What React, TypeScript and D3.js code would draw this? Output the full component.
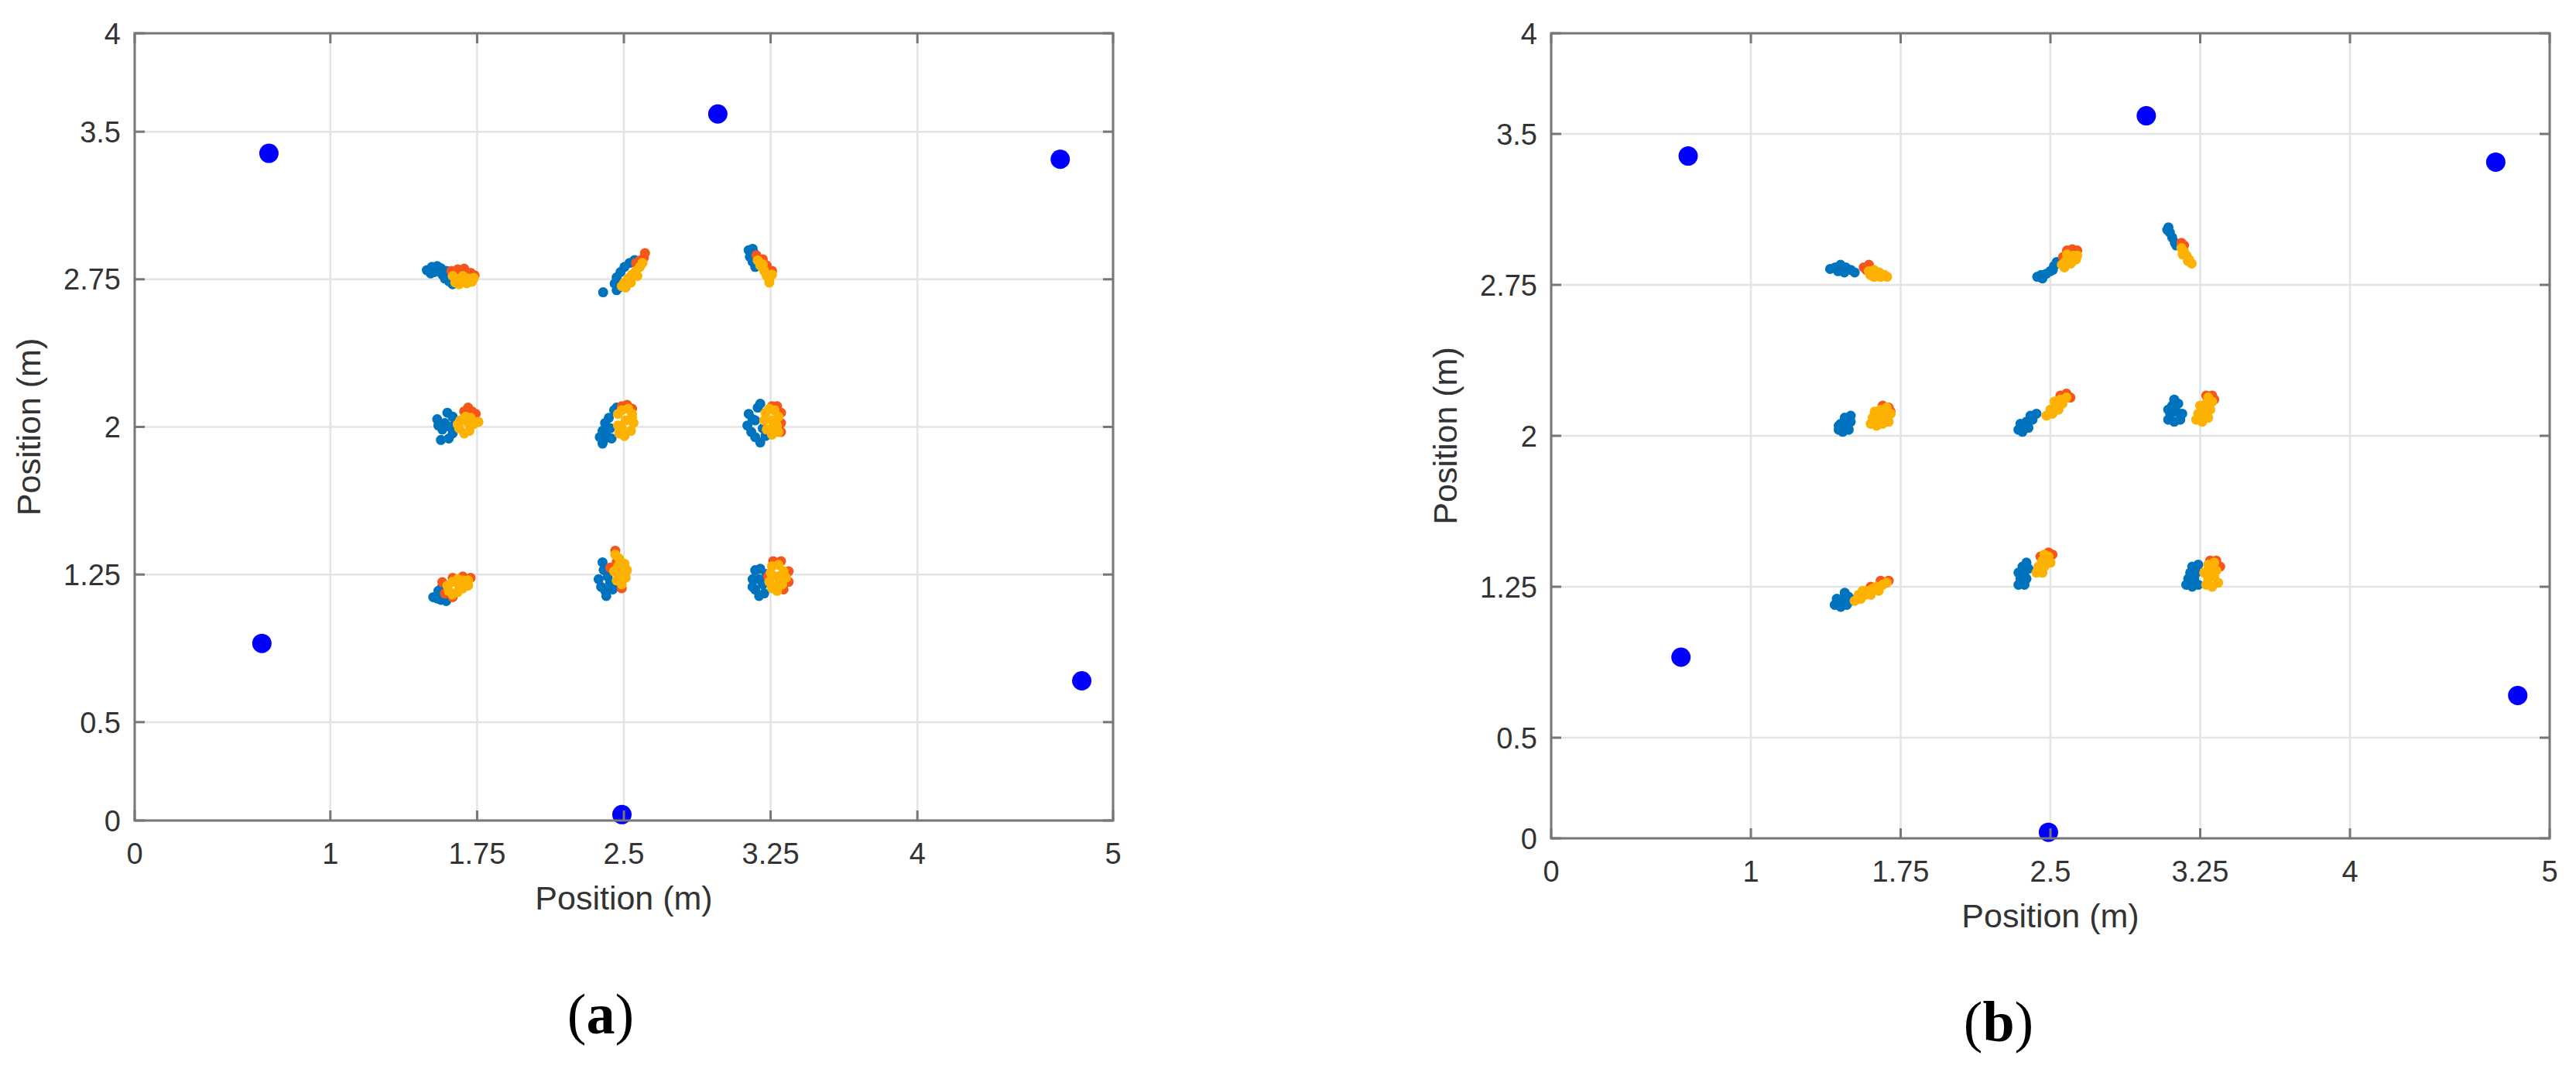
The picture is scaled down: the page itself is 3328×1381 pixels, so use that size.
import React from 'react';
import * as d3 from 'd3';

// tick values shared by both panels
const xTicks = [0, 1, 1.75, 2.5, 3.25, 4, 5];
const yTicks = [0, 0.5, 1.25, 2, 2.75, 3.5, 4];

// anchor positions (big blue dots)
const anchors = [[0.686, 3.39], [2.98, 3.59], [4.73, 3.36], [0.65, 0.9], [4.84, 0.71], [2.49, 0.03]];

// panel (a) estimates
const aBlue = [
  [1.493, 2.796], [1.519, 2.813], [1.546, 2.817], [1.565, 2.806], [1.532, 2.787], [1.572, 2.774], [1.585, 2.754], [1.605, 2.741], [1.625, 2.725], [1.513, 2.78], [1.592, 2.793],
  [2.394, 2.684], [2.463, 2.695], [2.453, 2.728], [2.463, 2.76], [2.483, 2.787], [2.503, 2.813], [2.529, 2.833], [2.555, 2.848], [2.476, 2.708],
  [3.138, 2.898], [3.158, 2.905], [3.144, 2.865], [3.158, 2.839], [3.171, 2.813], [3.164, 2.885],
  [1.546, 2.039], [1.572, 1.987], [1.598, 2.072], [1.625, 2.052], [1.585, 2.02], [1.565, 1.934], [1.605, 1.941], [1.625, 1.967], [1.638, 2.02], [1.611, 2.0], [1.552, 2.007],
  [2.391, 1.915], [2.377, 1.948], [2.391, 1.98], [2.404, 2.02], [2.423, 2.046], [2.45, 2.085], [2.463, 2.098], [2.41, 1.954], [2.43, 1.993], [2.437, 1.941], [2.397, 1.934],
  [3.138, 2.066], [3.131, 2.007], [3.151, 1.974], [3.171, 1.948], [3.197, 1.921], [3.184, 2.098], [3.197, 2.118], [3.171, 2.033], [3.21, 1.993], [3.224, 1.954], [3.158, 2.039],
  [1.526, 1.135], [1.552, 1.167], [1.572, 1.187], [1.565, 1.121], [1.592, 1.115], [1.605, 1.141], [1.578, 1.148], [1.546, 1.128],
  [2.391, 1.312], [2.397, 1.273], [2.371, 1.226], [2.384, 1.187], [2.404, 1.168], [2.41, 1.141], [2.443, 1.174], [2.43, 1.207], [2.417, 1.24], [2.45, 1.194],
  [3.171, 1.272], [3.158, 1.226], [3.171, 1.173], [3.191, 1.141], [3.217, 1.154], [3.21, 1.2], [3.23, 1.253], [3.197, 1.279], [3.191, 1.226], [3.158, 1.187],
];
const aOrange = [
  [1.618, 2.793], [1.651, 2.8], [1.684, 2.804], [1.717, 2.783], [1.737, 2.77],
  [2.608, 2.883], [2.602, 2.859], [2.582, 2.846], [2.562, 2.833],
  [3.21, 2.852], [3.23, 2.82], [3.257, 2.793], [3.177, 2.872],
  [1.704, 2.098], [1.724, 2.079], [1.684, 2.079], [1.743, 2.066],
  [2.489, 2.105], [2.516, 2.112], [2.542, 2.092],
  [3.257, 2.105], [3.283, 2.105], [3.303, 2.072], [3.303, 2.02], [3.303, 1.974],
  [1.572, 1.211], [1.625, 1.233], [1.677, 1.24], [1.717, 1.233], [1.585, 1.154], [1.625, 1.135],
  [2.456, 1.371], [2.463, 1.312], [2.489, 1.18], [2.43, 1.285],
  [3.263, 1.318], [3.303, 1.318], [3.342, 1.266], [3.342, 1.213], [3.316, 1.174], [3.237, 1.24],
];
const aYellow = [
  [1.625, 2.767], [1.651, 2.747], [1.677, 2.767], [1.704, 2.754], [1.724, 2.738], [1.658, 2.725], [1.697, 2.73], [1.638, 2.734], [1.733, 2.757],
  [2.489, 2.715], [2.503, 2.734], [2.522, 2.754], [2.542, 2.774], [2.562, 2.793], [2.582, 2.813], [2.595, 2.833], [2.509, 2.708], [2.536, 2.734], [2.569, 2.767],
  [3.184, 2.846], [3.197, 2.82], [3.217, 2.793], [3.23, 2.767], [3.243, 2.747], [3.243, 2.734], [3.21, 2.826], [3.257, 2.774],
  [1.664, 2.033], [1.691, 2.052], [1.717, 2.046], [1.757, 2.026], [1.658, 1.993], [1.684, 1.967], [1.71, 1.98], [1.73, 2.013], [1.651, 2.013], [1.704, 2.02],
  [2.47, 2.066], [2.489, 2.085], [2.522, 2.092], [2.542, 2.066], [2.549, 2.02], [2.536, 1.98], [2.503, 1.954], [2.476, 1.967], [2.47, 2.007], [2.509, 2.033], [2.542, 2.046], [2.489, 1.993],
  [3.224, 2.072], [3.243, 2.092], [3.27, 2.085], [3.29, 2.052], [3.283, 2.007], [3.29, 1.974], [3.257, 1.961], [3.23, 1.987], [3.217, 2.033], [3.257, 2.033], [3.263, 2.0],
  [1.598, 1.194], [1.625, 1.213], [1.651, 1.226], [1.677, 1.22], [1.704, 1.22], [1.704, 1.194], [1.677, 1.18], [1.651, 1.161], [1.625, 1.148], [1.605, 1.167], [1.658, 1.194],
  [2.456, 1.351], [2.476, 1.331], [2.503, 1.305], [2.516, 1.272], [2.509, 1.233], [2.489, 1.2], [2.463, 1.22], [2.45, 1.266], [2.483, 1.253], [2.47, 1.292],
  [3.257, 1.292], [3.29, 1.299], [3.316, 1.266], [3.329, 1.233], [3.309, 1.2], [3.283, 1.167], [3.257, 1.18], [3.243, 1.213], [3.25, 1.259], [3.283, 1.24], [3.29, 1.2],
];

// panel (b) estimates
const bBlue = [
  [1.397, 2.829], [1.423, 2.837], [1.449, 2.85], [1.475, 2.837], [1.501, 2.824], [1.52, 2.812], [1.436, 2.818], [1.468, 2.812],
  [2.434, 2.79], [2.46, 2.782], [2.479, 2.805], [2.499, 2.818], [2.518, 2.844], [2.531, 2.863], [2.512, 2.824], [2.453, 2.799],
  [3.091, 3.036], [3.098, 3.01], [3.11, 2.985], [3.123, 2.959], [3.13, 2.946], [3.085, 3.023],
  [1.44, 2.03], [1.46, 2.02], [1.49, 2.03], [1.45, 2.06], [1.48, 2.06], [1.5, 2.07], [1.47, 2.09], [1.5, 2.1], [1.44, 2.05],
  [2.34, 2.03], [2.36, 2.02], [2.39, 2.04], [2.35, 2.06], [2.38, 2.07], [2.41, 2.08], [2.4, 2.1], [2.43, 2.11], [2.37, 2.05],
  [3.09, 2.08], [3.12, 2.07], [3.15, 2.08], [3.1, 2.11], [3.13, 2.12], [3.16, 2.11], [3.11, 2.15], [3.14, 2.16], [3.12, 2.18], [3.09, 2.13],
  [1.42, 1.16], [1.45, 1.15], [1.48, 1.16], [1.43, 1.19], [1.46, 1.19], [1.49, 1.2], [1.5, 1.18], [1.47, 1.22],
  [2.34, 1.26], [2.37, 1.26], [2.35, 1.29], [2.38, 1.29], [2.34, 1.32], [2.37, 1.32], [2.36, 1.35], [2.39, 1.34], [2.38, 1.37],
  [3.18, 1.26], [3.21, 1.25], [3.24, 1.26], [3.19, 1.29], [3.22, 1.29], [3.2, 1.32], [3.23, 1.32], [3.21, 1.35], [3.24, 1.36],
];
const bOrange = [
  [1.565, 2.837], [1.591, 2.85], [1.578, 2.824],
  [2.583, 2.921], [2.609, 2.927], [2.634, 2.921], [2.563, 2.888],
  [3.156, 2.959], [3.169, 2.946],
  [1.66, 2.15], [1.69, 2.14], [1.7, 2.12],
  [2.55, 2.2], [2.58, 2.21], [2.6, 2.19],
  [3.28, 2.2], [3.31, 2.2], [3.32, 2.18],
  [1.6, 1.25], [1.65, 1.28], [1.69, 1.28],
  [2.49, 1.42], [2.51, 1.41], [2.45, 1.4],
  [3.3, 1.38], [3.33, 1.38], [3.35, 1.35],
];
const bYellow = [
  [1.591, 2.818], [1.617, 2.824], [1.643, 2.812], [1.669, 2.799], [1.682, 2.79], [1.617, 2.79], [1.649, 2.79], [1.598, 2.799],
  [2.557, 2.85], [2.576, 2.869], [2.596, 2.882], [2.615, 2.895], [2.634, 2.895], [2.628, 2.876], [2.602, 2.856], [2.57, 2.837], [2.583, 2.901],
  [3.156, 2.933], [3.169, 2.914], [3.182, 2.895], [3.194, 2.876], [3.207, 2.856], [3.162, 2.901], [3.188, 2.869],
  [1.6, 2.06], [1.63, 2.05], [1.66, 2.06], [1.69, 2.07], [1.61, 2.09], [1.64, 2.09], [1.67, 2.1], [1.7, 2.11], [1.62, 2.12], [1.65, 2.13], [1.68, 2.14],
  [2.48, 2.1], [2.51, 2.11], [2.54, 2.13], [2.5, 2.13], [2.53, 2.15], [2.56, 2.16], [2.55, 2.18], [2.58, 2.19], [2.52, 2.17],
  [3.23, 2.08], [3.26, 2.07], [3.29, 2.09], [3.24, 2.11], [3.27, 2.12], [3.3, 2.13], [3.25, 2.15], [3.28, 2.16], [3.31, 2.17], [3.29, 2.19],
  [1.52, 1.18], [1.55, 1.19], [1.54, 1.21], [1.57, 1.21], [1.59, 1.23], [1.61, 1.24], [1.63, 1.25], [1.66, 1.26], [1.6, 1.21], [1.56, 1.23], [1.64, 1.23], [1.68, 1.27],
  [2.43, 1.32], [2.46, 1.32], [2.44, 1.35], [2.47, 1.35], [2.5, 1.37], [2.46, 1.38], [2.49, 1.4], [2.47, 1.41],
  [3.28, 1.26], [3.31, 1.25], [3.34, 1.27], [3.29, 1.29], [3.32, 1.3], [3.27, 1.32], [3.3, 1.33], [3.33, 1.33], [3.29, 1.36], [3.32, 1.37],
];

const FONT = '"Liberation Sans", Arial, Helvetica, sans-serif';
const AXIS = '#777';
const GRID = '#e4e4e4';
const TEXT = '#333';

const Panel = ({ box, blue, orange, yellow, tag, tagX, tagY, dotR }) => {
  const x = d3.scaleLinear().domain([0, 5]).range([box.left, box.right]);
  const y = d3.scaleLinear().domain([0, 4]).range([box.bottom, box.top]);
  const fmt = d => String(d);
  const tick = 13;

  return (
    <g>
      {/* grid */}
      {xTicks.map(t => (
        <line key={'gx' + t} x1={x(t)} x2={x(t)} y1={box.top} y2={box.bottom} stroke={GRID} strokeWidth={2.5} />
      ))}
      {yTicks.map(t => (
        <line key={'gy' + t} x1={box.left} x2={box.right} y1={y(t)} y2={y(t)} stroke={GRID} strokeWidth={2.5} />
      ))}

      {/* scatter */}
      {blue.map((d, i) => <circle key={'b' + i} cx={x(d[0])} cy={y(d[1])} r={dotR} fill="#0073bf" />)}
      {orange.map((d, i) => <circle key={'o' + i} cx={x(d[0])} cy={y(d[1])} r={dotR} fill="#f5561a" />)}
      {yellow.map((d, i) => <circle key={'y' + i} cx={x(d[0])} cy={y(d[1])} r={dotR} fill="#fdb100" />)}
      {anchors.map((d, i) => <circle key={'a' + i} cx={x(d[0])} cy={y(d[1])} r={12.5} fill="#0000ff" />)}

      {/* box + ticks */}
      <rect x={box.left} y={box.top} width={box.right - box.left} height={box.bottom - box.top} fill="none" stroke={AXIS} strokeWidth={3} />
      {xTicks.map(t => (
        <g key={'tx' + t}>
          <line x1={x(t)} x2={x(t)} y1={box.bottom} y2={box.bottom - tick} stroke={AXIS} strokeWidth={3} />
          <line x1={x(t)} x2={x(t)} y1={box.top} y2={box.top + tick} stroke={AXIS} strokeWidth={3} />
          <text x={x(t)} y={box.bottom + 56} textAnchor="middle" fontSize={38} fill={TEXT} fontFamily={FONT}>{fmt(t)}</text>
        </g>
      ))}
      {yTicks.map(t => (
        <g key={'ty' + t}>
          <line x1={box.left} x2={box.left + tick} y1={y(t)} y2={y(t)} stroke={AXIS} strokeWidth={3} />
          <line x1={box.right} x2={box.right - tick} y1={y(t)} y2={y(t)} stroke={AXIS} strokeWidth={3} />
          <text x={box.left - 18} y={y(t)} dy="0.36em" textAnchor="end" fontSize={38} fill={TEXT} fontFamily={FONT}>{fmt(t)}</text>
        </g>
      ))}

      {/* axis labels */}
      <text x={(box.left + box.right) / 2} y={box.bottom + 115} textAnchor="middle" fontSize={43} fill={TEXT} fontFamily={FONT}>Position (m)</text>
      <text transform={`translate(${box.left - 122}, ${(box.top + box.bottom) / 2}) rotate(-90)`} textAnchor="middle" fontSize={43} fill={TEXT} fontFamily={FONT}>Position (m)</text>

      {/* panel tag */}
      <text x={tagX} y={tagY} textAnchor="middle" fontSize={74} fill="#000" fontFamily='"Liberation Serif", "Times New Roman", serif'>
        (<tspan fontWeight="bold">{tag}</tspan>)
      </text>
    </g>
  );
};

const App = () => (
  <svg width={3328} height={1381} style={{ position: 'absolute', left: 0, top: 0, background: '#fff' }}>
    <rect width={3328} height={1381} fill="#fff" />
    <Panel box={{ left: 174, right: 1438, top: 43, bottom: 1060 }} blue={aBlue} orange={aOrange} yellow={aYellow} tag="a" tagX={776} tagY={1335} dotR={6.5} />
    <Panel box={{ left: 2004, right: 3294, top: 43, bottom: 1083 }} blue={bBlue} orange={bOrange} yellow={bYellow} tag="b" tagX={2582} tagY={1345} dotR={6.5} />
  </svg>
);

export default App;
